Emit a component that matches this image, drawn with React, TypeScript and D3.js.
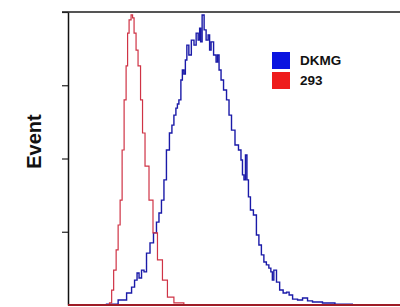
import React, { useEffect, useRef } from "react";
import * as d3 from "d3";

// red histogram (293)
const redChannels = [0, 120, 130, 133, 142, 148, 154, 160, 166, 172, 178, 181, 187, 193, 196, 202, 208, 214, 223, 226, 238, 250, 262, 277, 292, 307, 331, 367, 1000];
const redCounts = [0, 0, 0.7, 5.1, 11.9, 18.8, 27.3, 35.8, 52.9, 70, 81.6, 92.8, 97.3, 99, 98, 92.8, 87, 81.6, 70, 58.7, 47.4, 35.8, 24.6, 15.4, 8.5, 2.7, 0.7, 0, 0];

// blue histogram (DKMG)
const blueChannels = [96, 136, 166, 187, 196, 205, 211, 217, 226, 232, 241, 253, 262, 271, 277, 286, 292, 301, 310, 316, 322, 328, 331, 337, 343, 346, 352, 355, 361, 367, 376, 383, 389, 395, 398, 401, 407, 413, 419, 425, 428, 434, 443, 449, 452, 458, 464, 473, 482, 488, 497, 509, 518, 524, 527, 533, 536, 542, 545, 554, 563, 572, 578, 587, 593, 602, 608, 614, 617, 623, 633, 642, 654, 663, 669, 684, 699, 714, 729, 744, 759, 774, 789, 819, 849, 864];
const blueCounts = [0, 0.3, 1.7, 4.1, 6.1, 8.5, 10.9, 9.2, 11.9, 11.3, 17.7, 21.2, 24.6, 28.3, 31.4, 35.8, 42.7, 52.9, 58.7, 61.4, 64.8, 67.2, 68.6, 70, 76.8, 80.2, 78.8, 83.6, 88.7, 85.3, 90.4, 88.7, 92.8, 90.4, 94.5, 89.8, 99, 93.9, 90.4, 92.2, 87, 89.8, 85.3, 82.9, 85.3, 80.2, 76.8, 73.4, 70, 64.8, 59.7, 54.6, 52.9, 49.5, 44.4, 42.7, 51.2, 42.7, 36.9, 32.4, 30.7, 23.9, 20.5, 17.1, 14.7, 13.7, 12.6, 11.3, 8.5, 11.9, 7.8, 5.1, 4.1, 4.4, 3.4, 2, 1.7, 2.4, 1.4, 1, 1, 0.7, 0.7, 0.3, 0.3, 0];

const yTicks = [25, 50, 75, 100];
const legendNames = ["DKMG", "293"];
const legendColors = ["#0a14e0", "#ee1c1c"];

const W = 400;
const H = 307;

const App: React.FC = () => {
  const svgRef = useRef<SVGSVGElement>(null);

  useEffect(() => {
    if (!svgRef.current) return;
    const svg = d3.select(svgRef.current);
    svg.selectAll("*").remove();

    const left = 68, top = 12, bottom = 305, right = 400;

    const x = d3.scaleLinear().domain([0, 1000]).range([left, right]);
    const y = d3.scaleLinear().domain([0, 100]).range([bottom, top]);

    svg.append("rect").attr("width", W).attr("height", H).attr("fill", "#fff");

    // top frame line
    svg.append("line")
      .attr("x1", left - 6).attr("x2", right)
      .attr("y1", top).attr("y2", top)
      .attr("stroke", "#555").attr("stroke-width", 2);

    // y axis
    const yAxis = d3.axisLeft(y).tickValues(yTicks).tickFormat(() => "").tickSize(6).tickSizeOuter(0);
    const gy = svg.append("g").attr("transform", `translate(${left},0)`).call(yAxis);
    gy.select(".domain").attr("stroke", "#111").attr("stroke-width", 1.5);
    gy.selectAll(".tick line").attr("stroke", "#222").attr("stroke-width", 1.2);

    // histograms drawn as steps
    const line = d3.line<[number, number]>()
      .x(d => x(d[0]))
      .y(d => y(d[1]))
      .curve(d3.curveStep);

    const blue: [number, number][] = blueChannels.map((c, i) => [c, blueCounts[i]]);
    const red: [number, number][] = redChannels.map((c, i) => [c, redCounts[i]]);

    svg.append("path")
      .attr("d", line(blue))
      .attr("fill", "none")
      .attr("stroke", "#1a1aa8")
      .attr("stroke-width", 1.4);

    svg.append("path")
      .attr("d", line(red))
      .attr("fill", "none")
      .attr("stroke", "#cf3345")
      .attr("stroke-width", 1.2);

    // bottom axis line
    svg.append("line")
      .attr("x1", left).attr("x2", right)
      .attr("y1", bottom).attr("y2", bottom)
      .attr("stroke", "#9e1c26").attr("stroke-width", 2);

    // y label
    svg.append("text")
      .attr("transform", `translate(41,${(top + bottom) / 2 - 17}) rotate(-90)`)
      .attr("text-anchor", "middle")
      .attr("font-family", "Liberation Sans, Arial, sans-serif")
      .attr("font-weight", "bold")
      .attr("font-size", 20)
      .attr("fill", "#111")
      .text("Event");

    // legend
    const lg = svg.append("g").attr("transform", "translate(272,52)");
    legendNames.forEach((name, i) => {
      lg.append("rect")
        .attr("x", 0).attr("y", i * 20)
        .attr("width", 18).attr("height", 17)
        .attr("fill", legendColors[i]);
      lg.append("text")
        .attr("x", 28).attr("y", i * 20 + 13)
        .attr("font-family", "Liberation Sans, Arial, sans-serif")
        .attr("font-weight", "bold")
        .attr("font-size", 13.5)
        .attr("fill", "#111")
        .text(name);
    });
  }, []);

  return (
    <svg
      ref={svgRef}
      width={W}
      height={H}
      style={{ position: "absolute", left: 0, top: 0 }}
    />
  );
};

export default App;
